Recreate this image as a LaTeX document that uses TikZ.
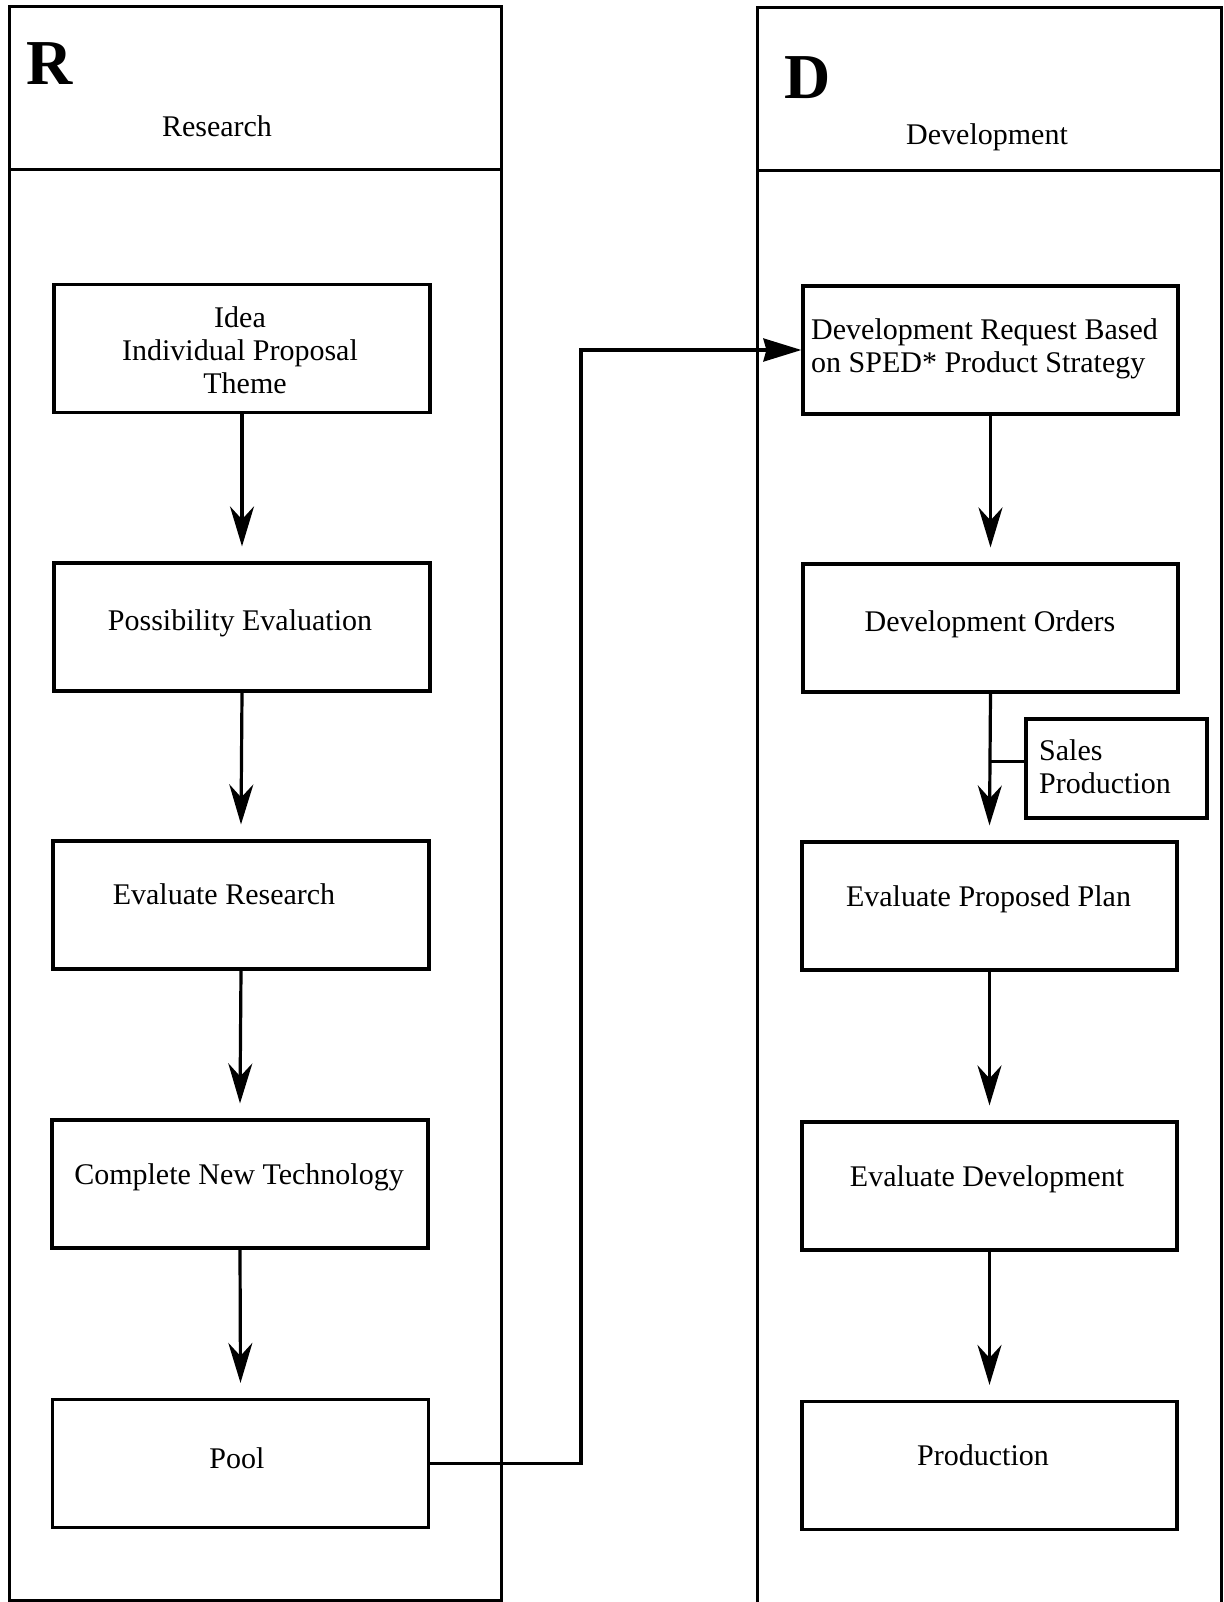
\documentclass[tikz,border=0pt]{standalone}
\usepackage{fontspec}
\setmainfont{Liberation Serif}
\usetikzlibrary{arrows.meta}
\begin{document}
\begin{tikzpicture}[x=1pt,y=-1pt,
  panel/.style={line width=3pt},
  box/.style={draw,line width=3.2pt,inner sep=0pt,minimum width=376pt,minimum height=128pt},
  txt/.style={font=\fontsize{30}{33}\selectfont,inner sep=0pt,align=center},
  big/.style={font=\fontsize{64}{66}\selectfont\bfseries,inner sep=0pt},
  conn/.style={line width=3.2pt},
  flow/.style={line width=3.2pt,-{Stealth[length=40pt,width=24pt,inset=13pt]}},
  feed/.style={line width=3.2pt,-{Stealth[length=38pt,width=23pt,inset=3pt]}}]
\useasboundingbox (0,0) rectangle (1223,1602);
% panels
\draw[panel] (9,1600) -- (9,7) -- (501,7) -- (501,1600) -- cycle;
\draw[panel] (9,170) -- (501,170);
\draw[panel] (757,1602) -- (757,8) -- (1221,8) -- (1221,1602);
\draw[panel] (757,171) -- (1221,171);
\node[big,anchor=base] (R) at (50,85) {R};
\node[big,anchor=base] (D) at (808,99) {D};
\node[txt,anchor=base] (rt) at (217,137) {Research};
\node[txt,anchor=base] (dt) at (987,145) {Development};
% left boxes
\node[box] (l1) at (242,348.5) {};
\node[box] (l2) at (242,627) {};
\node[box] (l3) at (241,905) {};
\node[box] (l4) at (240,1184) {};
\node[box] (l5) at (240.5,1463.5) {};
% right boxes
\node[box,minimum width=375pt] (r1) at (990.5,350) {};
\node[box,minimum width=375pt] (r2) at (990.5,628) {};
\node[box,minimum width=375pt] (r3) at (989.5,906) {};
\node[box,minimum width=375pt] (r4) at (989.5,1186) {};
\node[box,minimum width=375pt] (r5) at (989.5,1465.5) {};
\node[box,minimum width=181pt,minimum height=99pt] (sales) at (1116.5,768.5) {};
% texts
\node[txt] (t1) at (240,350) {Idea\\Individual Proposal\\\hspace*{10pt}Theme};
\node[txt] (t2) at (240,623) {Possibility Evaluation};
\node[txt] (t3) at (224,894) {Evaluate Research};
\node[txt] (t4) at (239,1177) {Complete New Technology};
\node[txt] (t5) at (237,1458) {Pool};
\node[txt,align=left,anchor=west] (u1) at (811,349) {Development Request Based\\on SPED* Product Strategy};
\node[txt] (u2) at (990,624) {Development Orders};
\node[txt,align=left,anchor=west] (us) at (1039,767) {Sales\\Production};
\node[txt] (u3) at (988.5,899) {Evaluate Proposed Plan};
\node[txt] (u4) at (987,1179) {Evaluate Development};
\node[txt] (u5) at (983,1455) {Production};
% arrows
\draw[flow] (l1.south) -- ([yshift=15pt]l2.north);
\draw[flow] (l2.south) -- ([yshift=15pt]l3.north);
\draw[flow] (l3.south) -- ([yshift=15pt]l4.north);
\draw[flow] (l4.south) -- ([yshift=15pt]l5.north);
\draw[flow] (r1.south) -- ([yshift=15pt]r2.north);
\draw[flow] (r2.south) -- ([yshift=15pt]r3.north);
\draw[flow] (r3.south) -- ([yshift=15pt]r4.north);
\draw[flow] (r4.south) -- ([yshift=15pt]r5.north);
\draw[conn] ([yshift=7pt]sales.west) -- ([yshift=7pt]sales.west -| r2.south);
\coordinate (bend) at (581,347);
\draw[feed] (l5.east) -- (l5.east -| bend) -- (bend |- r1.west) -- (r1.west);
\end{tikzpicture}
\end{document}
